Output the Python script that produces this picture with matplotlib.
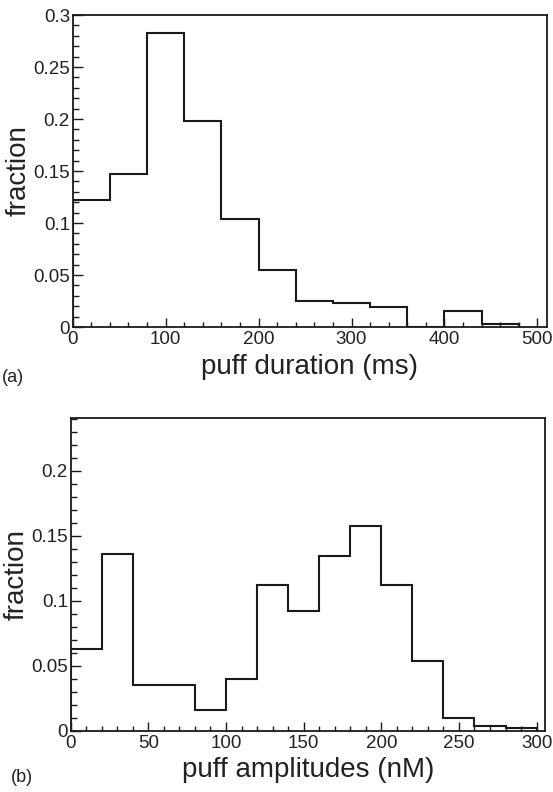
import matplotlib
matplotlib.use("Agg")
import matplotlib.pyplot as plt
from matplotlib.ticker import MultipleLocator, FuncFormatter
import numpy as np

plt.rcParams['font.family'] = ['Liberation Sans', 'DejaVu Sans']

# Panel (a): puff duration histogram
dur_edges = [0, 40, 80, 120, 160, 200, 240, 280, 320, 360, 400, 440, 480]
dur_frac = [0.122, 0.147, 0.283, 0.198, 0.104, 0.055, 0.025, 0.023, 0.019, 0.0, 0.015, 0.003]

# Panel (b): puff amplitude histogram
amp_edges = [0, 20, 40, 60, 80, 100, 120, 140, 160, 180, 200, 220, 240, 260, 280, 300]
amp_frac = [0.063, 0.136, 0.035, 0.035, 0.0157, 0.0395, 0.112, 0.092, 0.134, 0.1575,
            0.112, 0.0534, 0.010, 0.0038, 0.002]

LC = '#1a1a1a'
fig = plt.figure(figsize=(5.53, 7.92), dpi=100)

ax1 = fig.add_axes([0.1315, 0.5871, 0.9886 - 0.1315, 0.981 - 0.5871])
ax2 = fig.add_axes([0.1278, 0.0774, 0.9855 - 0.1278, 0.4722 - 0.0774])

fmt = FuncFormatter(lambda v, p: '%g' % round(v, 4))

def style(ax, xlim, ylim, xmaj, xmin, xlabel):
    ax.set_xlim(*xlim)
    ax.set_ylim(*ylim)
    ax.xaxis.set_major_locator(MultipleLocator(xmaj))
    ax.xaxis.set_minor_locator(MultipleLocator(xmin))
    ax.yaxis.set_major_locator(MultipleLocator(0.05))
    ax.yaxis.set_minor_locator(MultipleLocator(0.01))
    ax.yaxis.set_major_formatter(fmt)
    for s in ax.spines.values():
        s.set_linewidth(1.3)
        s.set_color(LC)
    ax.tick_params(axis='both', which='both', direction='in', top=False, right=False,
                   color=LC, width=1.0, labelsize=13.5, labelcolor='#222222')
    ax.tick_params(axis='x', which='major', length=6.5, pad=3)
    ax.tick_params(axis='x', which='minor', length=3.5)
    ax.tick_params(axis='y', which='major', length=7, pad=2)
    ax.tick_params(axis='y', which='minor', length=4)
    ax.set_xlabel(xlabel, fontsize=20, color='#222222', labelpad=4)
    ax.set_ylabel('fraction', fontsize=20, color='#222222')
    ax.yaxis.set_label_coords(-0.086, 0.5)

ax1.stairs(dur_frac, dur_edges, baseline=0, color=LC, linewidth=1.5)
style(ax1, (0, 510), (0, 0.3), 100, 20, 'puff duration (ms)')

ax2.stairs(amp_frac, amp_edges, baseline=0, color=LC, linewidth=1.5)
style(ax2, (0, 305.4), (0, 0.2405), 50, 10, 'puff amplitudes (nM)')

fig.text(0.004, 1 - 377 / 792, '(a)', fontsize=13, color='#222222', va='center', ha='left')
fig.text(0.019, 1 - 778 / 792, '(b)', fontsize=13, color='#222222', va='center', ha='left')

fig.savefig('out.png', dpi=100)
